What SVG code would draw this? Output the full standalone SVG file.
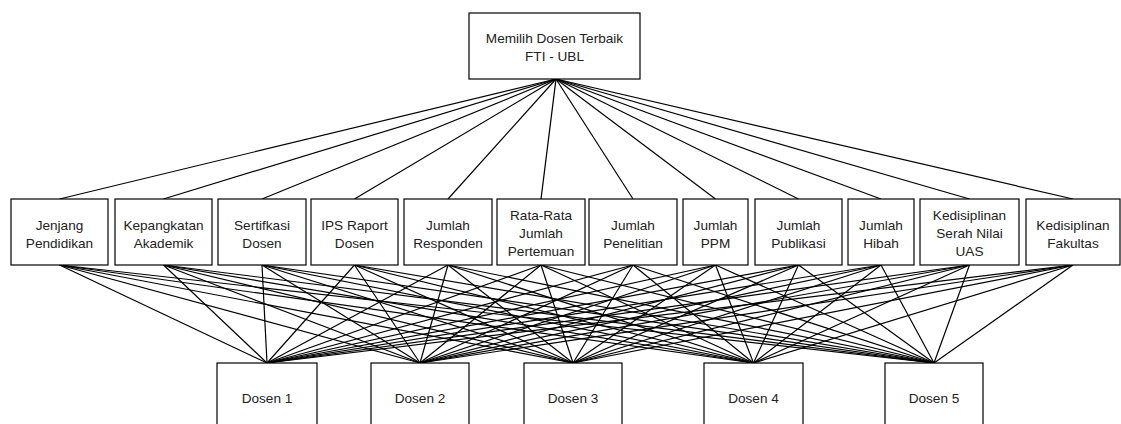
<svg xmlns="http://www.w3.org/2000/svg" width="1121" height="424" viewBox="0 0 1121 424">
<style>
rect{fill:#fff;stroke:#000;stroke-width:1.2}
text{font-family:"Liberation Sans",Arial,sans-serif;font-size:13.6px;fill:#222;text-anchor:middle}
#connectors line{stroke:#000;stroke-width:1.2}
</style>
<rect x="0" y="0" width="1121" height="424" style="stroke:none"/>
<g id="connectors">
<line x1="556" y1="79" x2="59.5" y2="199"/><line x1="556" y1="79" x2="163.5" y2="199"/><line x1="556" y1="79" x2="262" y2="199"/><line x1="556" y1="79" x2="354.5" y2="199"/><line x1="556" y1="79" x2="448" y2="199"/><line x1="556" y1="79" x2="541" y2="199"/><line x1="556" y1="79" x2="633" y2="199"/><line x1="556" y1="79" x2="715.5" y2="199"/><line x1="556" y1="79" x2="798.5" y2="199"/><line x1="556" y1="79" x2="881" y2="199"/><line x1="556" y1="79" x2="969.5" y2="199"/><line x1="556" y1="79" x2="1073" y2="199"/>
<line x1="59.5" y1="265" x2="267" y2="363"/><line x1="59.5" y1="265" x2="420" y2="363"/><line x1="59.5" y1="265" x2="573" y2="363"/><line x1="59.5" y1="265" x2="753.5" y2="363"/><line x1="59.5" y1="265" x2="934" y2="363"/>
<line x1="163.5" y1="265" x2="267" y2="363"/><line x1="163.5" y1="265" x2="420" y2="363"/><line x1="163.5" y1="265" x2="573" y2="363"/><line x1="163.5" y1="265" x2="753.5" y2="363"/><line x1="163.5" y1="265" x2="934" y2="363"/>
<line x1="262" y1="265" x2="267" y2="363"/><line x1="262" y1="265" x2="420" y2="363"/><line x1="262" y1="265" x2="573" y2="363"/><line x1="262" y1="265" x2="753.5" y2="363"/><line x1="262" y1="265" x2="934" y2="363"/>
<line x1="354.5" y1="265" x2="267" y2="363"/><line x1="354.5" y1="265" x2="420" y2="363"/><line x1="354.5" y1="265" x2="573" y2="363"/><line x1="354.5" y1="265" x2="753.5" y2="363"/><line x1="354.5" y1="265" x2="934" y2="363"/>
<line x1="448" y1="265" x2="267" y2="363"/><line x1="448" y1="265" x2="420" y2="363"/><line x1="448" y1="265" x2="573" y2="363"/><line x1="448" y1="265" x2="753.5" y2="363"/><line x1="448" y1="265" x2="934" y2="363"/>
<line x1="541" y1="265" x2="267" y2="363"/><line x1="541" y1="265" x2="420" y2="363"/><line x1="541" y1="265" x2="573" y2="363"/><line x1="541" y1="265" x2="753.5" y2="363"/><line x1="541" y1="265" x2="934" y2="363"/>
<line x1="633" y1="265" x2="267" y2="363"/><line x1="633" y1="265" x2="420" y2="363"/><line x1="633" y1="265" x2="573" y2="363"/><line x1="633" y1="265" x2="753.5" y2="363"/><line x1="633" y1="265" x2="934" y2="363"/>
<line x1="715.5" y1="265" x2="267" y2="363"/><line x1="715.5" y1="265" x2="420" y2="363"/><line x1="715.5" y1="265" x2="573" y2="363"/><line x1="715.5" y1="265" x2="753.5" y2="363"/><line x1="715.5" y1="265" x2="934" y2="363"/>
<line x1="798.5" y1="265" x2="267" y2="363"/><line x1="798.5" y1="265" x2="420" y2="363"/><line x1="798.5" y1="265" x2="573" y2="363"/><line x1="798.5" y1="265" x2="753.5" y2="363"/><line x1="798.5" y1="265" x2="934" y2="363"/>
<line x1="881" y1="265" x2="267" y2="363"/><line x1="881" y1="265" x2="420" y2="363"/><line x1="881" y1="265" x2="573" y2="363"/><line x1="881" y1="265" x2="753.5" y2="363"/><line x1="881" y1="265" x2="934" y2="363"/>
<line x1="969.5" y1="265" x2="267" y2="363"/><line x1="969.5" y1="265" x2="420" y2="363"/><line x1="969.5" y1="265" x2="573" y2="363"/><line x1="969.5" y1="265" x2="753.5" y2="363"/><line x1="969.5" y1="265" x2="934" y2="363"/>
<line x1="1073" y1="265" x2="267" y2="363"/><line x1="1073" y1="265" x2="420" y2="363"/><line x1="1073" y1="265" x2="573" y2="363"/><line x1="1073" y1="265" x2="753.5" y2="363"/><line x1="1073" y1="265" x2="934" y2="363"/>
</g>
<g id="goal"><rect x="469" y="13" width="171" height="66"/><text x="554.5" y="43">Memilih Dosen Terbaik</text><text x="554.5" y="61">FTI - UBL</text></g>
<g id="c1"><rect x="11" y="199" width="97" height="66"/><text x="59.5" y="230">Jenjang</text><text x="59.5" y="248">Pendidikan</text></g>
<g id="c2"><rect x="115" y="199" width="97" height="66"/><text x="163.5" y="230">Kepangkatan</text><text x="163.5" y="248">Akademik</text></g>
<g id="c3"><rect x="218" y="199" width="88" height="66"/><text x="262" y="230">Sertifkasi</text><text x="262" y="248">Dosen</text></g>
<g id="c4"><rect x="311" y="199" width="87" height="66"/><text x="354.5" y="230">IPS Raport</text><text x="354.5" y="248">Dosen</text></g>
<g id="c5"><rect x="404" y="199" width="88" height="66"/><text x="448" y="230">Jumlah</text><text x="448" y="248">Responden</text></g>
<g id="c6"><rect x="497" y="199" width="88" height="66"/><text x="541" y="220">Rata-Rata</text><text x="541" y="238">Jumlah</text><text x="541" y="256">Pertemuan</text></g>
<g id="c7"><rect x="589" y="199" width="88" height="66"/><text x="633" y="230">Jumlah</text><text x="633" y="248">Penelitian</text></g>
<g id="c8"><rect x="683" y="199" width="65" height="66"/><text x="715.5" y="230">Jumlah</text><text x="715.5" y="248">PPM</text></g>
<g id="c9"><rect x="755" y="199" width="87" height="66"/><text x="798.5" y="230">Jumlah</text><text x="798.5" y="248">Publikasi</text></g>
<g id="c10"><rect x="848" y="199" width="66" height="66"/><text x="881" y="230">Jumlah</text><text x="881" y="248">Hibah</text></g>
<g id="c11"><rect x="920" y="199" width="99" height="66"/><text x="969.5" y="220">Kedisiplinan</text><text x="969.5" y="238">Serah Nilai</text><text x="969.5" y="256">UAS</text></g>
<g id="c12"><rect x="1026" y="199" width="94" height="66"/><text x="1073" y="230">Kedisiplinan</text><text x="1073" y="248">Fakultas</text></g>
<g id="d1"><rect x="217" y="363" width="100" height="70"/><text x="267" y="403">Dosen 1</text></g>
<g id="d2"><rect x="371" y="363" width="98" height="70"/><text x="420" y="403">Dosen 2</text></g>
<g id="d3"><rect x="524" y="363" width="98" height="70"/><text x="573" y="403">Dosen 3</text></g>
<g id="d4"><rect x="704" y="363" width="99" height="70"/><text x="753.5" y="403">Dosen 4</text></g>
<g id="d5"><rect x="885" y="363" width="98" height="70"/><text x="934" y="403">Dosen 5</text></g>
</svg>
